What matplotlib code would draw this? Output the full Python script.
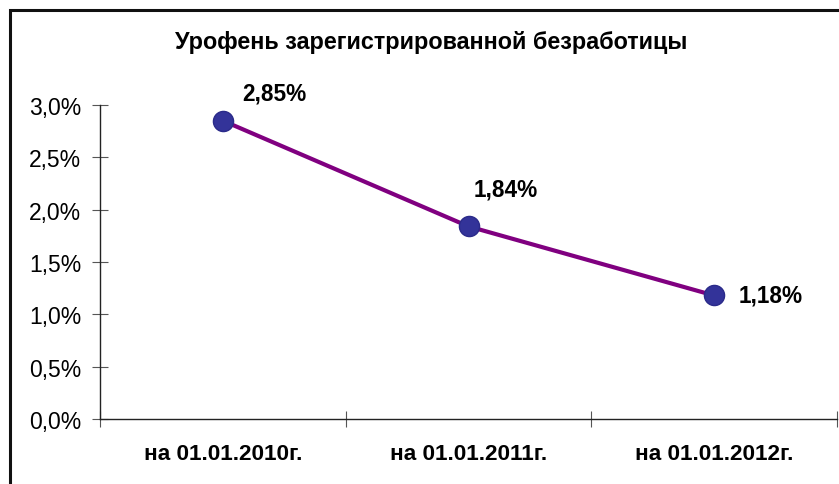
import matplotlib
matplotlib.use("Agg")
import matplotlib.pyplot as plt
from matplotlib.patches import Rectangle
from matplotlib.ticker import FuncFormatter, FixedLocator

plt.rcParams['font.family'] = ['Liberation Sans', 'DejaVu Sans']

# данные
dates = ['на 01.01.2010г.', 'на 01.01.2011г.', 'на 01.01.2012г.']
rate = [2.85, 1.84, 1.18]
labels = ['2,85%', '1,84%', '1,18%']
# смещения подписей в пикселях
label_offsets = [(52, 28), (37, 37), (57, 0)]

W, H = 839, 485
fig = plt.figure(figsize=(W / 100, H / 100), dpi=100)
ax = fig.add_axes([100 / W, (H - 420) / H, 737 / W, 314 / H])

x = list(range(len(dates)))
ax.plot(x, rate, color='#800080', lw=3, zorder=2)
ax.plot(x, rate, 'o', ms=14.5, mfc='#333399', mec='#2b2b8a', mew=1, zorder=3)

for xi, yi, t, (dx, dy) in zip(x, rate, labels, label_offsets):
    ax.annotate(t, (xi, yi), xytext=(dx * 0.72, dy * 0.72), textcoords='offset points',
                ha='center', va='center', fontsize=16.3, fontweight='bold')

ax.set_xlim(-0.5, len(dates) - 0.5)
ax.set_ylim(0, 3.0)
ax.yaxis.set_major_locator(FixedLocator([0, 0.5, 1.0, 1.5, 2.0, 2.5, 3.0]))
ax.yaxis.set_major_formatter(FuncFormatter(lambda v, p: f'{v:.1f}%'.replace('.', ',')))

ax.xaxis.set_major_locator(FixedLocator([-0.5, 0.5, 1.5, 2.5]))
ax.xaxis.set_major_formatter(FuncFormatter(lambda v, p: ''))
ax.xaxis.set_minor_locator(FixedLocator(x))
ax.set_xticklabels(dates, minor=True, fontsize=16.2, fontweight='bold')
ax.tick_params(axis='x', which='minor', length=0, pad=17)
ax.tick_params(axis='x', which='major', direction='inout', length=12, color='#555555')
ax.tick_params(axis='y', direction='inout', length=11, color='#555555', labelsize=16.5, pad=8)

for s in ['top', 'right']:
    ax.spines[s].set_visible(False)
for s in ['left', 'bottom']:
    ax.spines[s].set_color('#222222')
    ax.spines[s].set_linewidth(1)

fig.text(431 / W, 1 - 42 / H, 'Урофень зарегистрированной безработицы',
         ha='center', va='center', fontsize=16.8, fontweight='bold')

frame = Rectangle((9.5 / W, -0.2), 1.5, 1.2 - 10.5 / H, transform=fig.transFigure,
                  fill=False, ec='#111111', lw=2.2)
fig.patches.append(frame)

fig.savefig('out.png', dpi=100)
